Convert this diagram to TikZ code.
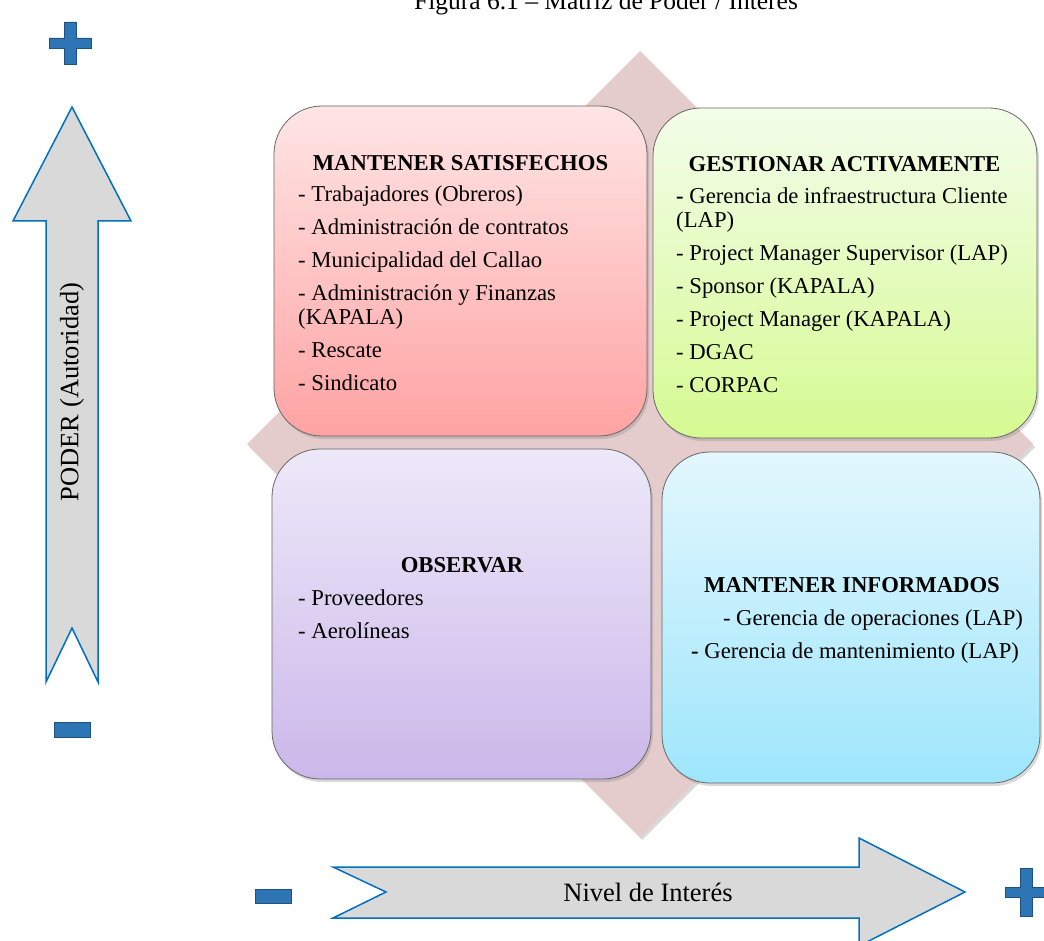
\documentclass[tikz,border=0pt]{standalone}
\usepackage{fontspec}
\setmainfont{Liberation Serif}
\usetikzlibrary{shadows}
\definecolor{rosediam}{RGB}{229,204,204}
\definecolor{arrowgray}{RGB}{217,217,217}
\definecolor{arrowblue}{RGB}{0,112,192}
\definecolor{signblue}{RGB}{46,117,182}
\definecolor{pinktop}{RGB}{255,229,229}
\definecolor{pinkbot}{RGB}{255,163,163}
\definecolor{greentop}{RGB}{243,253,234}
\definecolor{greenbot}{RGB}{214,250,146}
\definecolor{violettop}{RGB}{237,233,249}
\definecolor{violetbot}{RGB}{204,183,234}
\definecolor{cyantop}{RGB}{227,247,253}
\definecolor{cyanbot}{RGB}{158,230,252}
\newcommand{\boxfont}{\fontsize{22.7}{24}\selectfont}
\newcommand{\axisfont}{\fontsize{26.5}{30}\selectfont}

\begin{document}
\begin{tikzpicture}[x=1pt,y=-1pt,
  quad/.style={draw=black!60,line width=0.8pt,rounded corners=48pt,
    drop shadow={opacity=0.3,shadow xshift=2pt,shadow yshift=-3pt}},
  head/.style={font=\boxfont\bfseries,inner sep=0pt,anchor=base},
  items/.style={font=\boxfont,align=left,inner sep=0pt,anchor=north west},
  line/.style={font=\boxfont,inner sep=0pt,anchor=base},
  bigarrow/.style={fill=arrowgray,draw=arrowblue,line width=1.5pt},
  sign/.style={fill=signblue,draw=signblue!70!black,line width=0.5pt}]
  \useasboundingbox (0,0) rectangle (1044,941);

  \node[font=\fontsize{25.5}{28}\selectfont,anchor=base] (title) at (606,10)
    {Figura 6.1 -- Matriz de Poder / Interés};

  \fill[rosediam,drop shadow={opacity=0.3,shadow xshift=2pt,shadow yshift=-3pt}]
    (640,51) -- (1033,444) -- (640,837) -- (247,444) -- cycle;

  \node[quad,top color=pinktop,bottom color=pinkbot,
    minimum width=373pt,minimum height=330pt] (satisf) at (460.5,271) {};
  \node[quad,top color=greentop,bottom color=greenbot,
    minimum width=384pt,minimum height=330pt] (gestion) at (845,273) {};
  \node[quad,top color=violettop,bottom color=violetbot,
    minimum width=379pt,minimum height=330pt] (observ) at (461.5,614) {};
  \node[quad,top color=cyantop,bottom color=cyanbot,
    minimum width=378pt,minimum height=331pt] (inform) at (851,617.5) {};

  \node[head] (satisfhead) at (460.5,171) {MANTENER SATISFECHOS};
  \node[items] (satisflist) at (298,184.2) {\strut- Trabajadores (Obreros)\\[9pt]
    - Administración de contratos\\[9pt]
    - Municipalidad del Callao\\[9pt]
    - Administración y Finanzas\\
    (KAPALA)\\[9pt]
    - Rescate\\[9pt]
    - Sindicato};

  \node[head] (gestionhead) at (844.5,172) {GESTIONAR ACTIVAMENTE};
  \node[items] (gestionlist) at (676,186.2) {\strut{\bfseries -} Gerencia de infraestructura Cliente\\
    (LAP)\\[9pt]
    - Project Manager Supervisor (LAP)\\[9pt]
    - Sponsor (KAPALA)\\[9pt]
    - Project Manager (KAPALA)\\[9pt]
    - DGAC\\[9pt]
    - CORPAC};

  \node[head] (observhead) at (462,572) {OBSERVAR};
  \node[items] (observlist) at (298,588.2) {\strut- Proveedores\\[9pt]
    - Aerolíneas};

  \node[head] (informhead) at (852,592) {MANTENER INFORMADOS};
  \node[line] (informa) at (873,625) {- Gerencia de operaciones (LAP)};
  \node[line] (informb) at (855,658) {{\bfseries -} Gerencia de mantenimiento (LAP)};

  \draw[bigarrow] (72,107) -- (131,221) -- (98,221) -- (98,682) -- (72,628)
    -- (46,682) -- (46,221) -- (13,221) -- cycle;
  \node[font=\axisfont,rotate=90] (poder) at (72,392) {PODER (Autoridad)};

  \draw[bigarrow] (333,867) -- (859,867) -- (859,838) -- (965,892) -- (859,946)
    -- (859,918) -- (333,918) -- (386,892) -- cycle;
  \node[font=\axisfont] (interes) at (648,892) {Nivel de Interés};

  \draw[sign] (64,22) -- (76,22) -- (76,38) -- (91,38) -- (91,48) -- (76,48)
    -- (76,64) -- (64,64) -- (64,48) -- (49,48) -- (49,38) -- (64,38) -- cycle;
  \draw[sign] (54,722) rectangle (90,737);
  \draw[sign] (255,889) rectangle (291,903);
  \draw[sign] (1020,868) -- (1032,868) -- (1032,887) -- (1048,887) -- (1048,897)
    -- (1032,897) -- (1032,916) -- (1020,916) -- (1020,897) -- (1005,897)
    -- (1005,887) -- (1020,887) -- cycle;
\end{tikzpicture}
\end{document}
